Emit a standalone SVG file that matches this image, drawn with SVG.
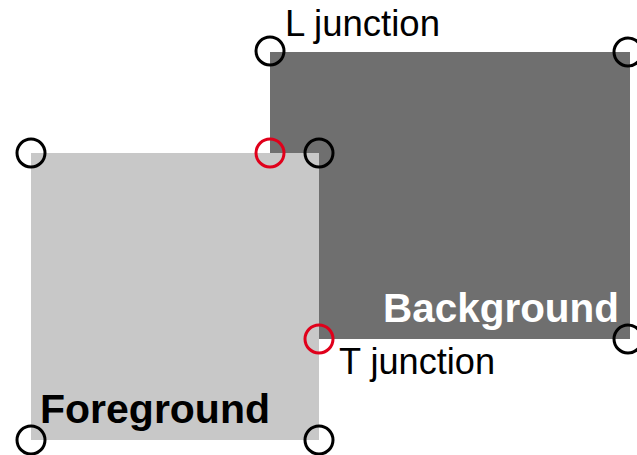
<svg xmlns="http://www.w3.org/2000/svg" width="637" height="455" viewBox="0 0 637 455">
  <style>
    .label { font-family: "Liberation Sans", Arial, sans-serif; font-size: 36px; fill: #000; }
    .title { font-family: "Liberation Sans", Arial, sans-serif; font-size: 41px; font-weight: bold; }
    .corner { fill: none; stroke: #000; stroke-width: 3; }
    .junction { fill: none; stroke: #e0001b; stroke-width: 3; }
  </style>
  <rect width="637" height="455" fill="#fff"/>

  <g id="background">
    <rect x="270" y="52" width="360" height="287" fill="#6f6f6f"/>
    <text class="title" x="383" y="322" fill="#fff" textLength="236" lengthAdjust="spacingAndGlyphs">Background</text>
  </g>

  <g id="foreground">
    <rect x="31" y="153" width="288" height="287" fill="#c8c8c8"/>
    <text class="title" x="40" y="423" fill="#000" textLength="230" lengthAdjust="spacingAndGlyphs">Foreground</text>
  </g>

  <g id="corners">
    <circle class="corner" cx="270" cy="51" r="14"/>
    <circle class="corner" cx="628" cy="52" r="14"/>
    <circle class="corner" cx="628" cy="339" r="14"/>
    <circle class="corner" cx="319" cy="153" r="14"/>
    <circle class="corner" cx="31" cy="153" r="14"/>
    <circle class="corner" cx="31" cy="440" r="14"/>
    <circle class="corner" cx="319" cy="440" r="14"/>
  </g>

  <g id="junctions">
    <circle class="junction" cx="270" cy="153" r="14"/>
    <circle class="junction" cx="319" cy="339" r="14"/>
    <text class="label" x="285" y="36" textLength="155" lengthAdjust="spacingAndGlyphs">L junction</text>
    <text class="label" x="339" y="374" textLength="156" lengthAdjust="spacingAndGlyphs">T junction</text>
  </g>
</svg>
